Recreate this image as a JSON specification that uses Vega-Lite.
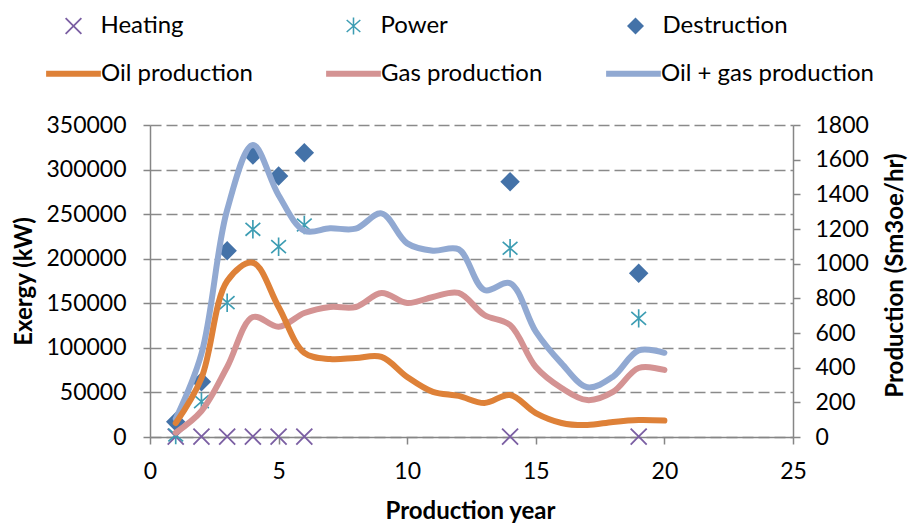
{
  "$schema": "https://vega.github.io/schema/vega-lite/v6.json",
  "width": 643,
  "height": 312,
  "autosize": {"type": "none"},
  "padding": {"left": 150, "top": 125, "right": 116, "bottom": 88},
  "background": "white",
  "config": {
    "font": "Lato",
    "view": {"stroke": null},
    "axis": {
      "domainColor": "#868686",
      "domainWidth": 1.5,
      "tickColor": "#868686",
      "tickWidth": 1.5,
      "tickSize": 7,
      "labelColor": "#000000",
      "labelFont": "Lato",
      "labelFontSize": 23,
      "titleFont": "Lato",
      "titleFontSize": 24,
      "titleFontWeight": "bold",
      "titleColor": "#000000",
      "labelFlush": false,
      "labelOverlap": false
    },
    "legend": {"labelFont": "Lato", "labelColor": "#000000", "padding": 0, "labelLimit": 400, "labelFontSize": 24, "title": null}
  },
  "datasets": {
    "points": [
      {"year": 1, "series": "Heating", "exergy": 500},
      {"year": 2, "series": "Heating", "exergy": 500},
      {"year": 3, "series": "Heating", "exergy": 500},
      {"year": 4, "series": "Heating", "exergy": 500},
      {"year": 5, "series": "Heating", "exergy": 500},
      {"year": 6, "series": "Heating", "exergy": 500},
      {"year": 14, "series": "Heating", "exergy": 500},
      {"year": 19, "series": "Heating", "exergy": 500},
      {"year": 1, "series": "Power", "exergy": 2200},
      {"year": 2, "series": "Power", "exergy": 39600},
      {"year": 3, "series": "Power", "exergy": 150700},
      {"year": 4, "series": "Power", "exergy": 233000},
      {"year": 5, "series": "Power", "exergy": 213500},
      {"year": 6, "series": "Power", "exergy": 237800},
      {"year": 14, "series": "Power", "exergy": 211700},
      {"year": 19, "series": "Power", "exergy": 133100},
      {"year": 1, "series": "Destruction", "exergy": 17200},
      {"year": 2, "series": "Destruction", "exergy": 62000},
      {"year": 3, "series": "Destruction", "exergy": 209000},
      {"year": 4, "series": "Destruction", "exergy": 316300},
      {"year": 5, "series": "Destruction", "exergy": 292800},
      {"year": 6, "series": "Destruction", "exergy": 319000},
      {"year": 14, "series": "Destruction", "exergy": 286400},
      {"year": 19, "series": "Destruction", "exergy": 183600}
    ],
    "lines": [
      {"year": 1, "line": "Oil + gas production", "prod": 105},
      {"year": 2, "line": "Oil + gas production", "prod": 480},
      {"year": 3, "line": "Oil + gas production", "prod": 1310},
      {"year": 4, "line": "Oil + gas production", "prod": 1685},
      {"year": 5, "line": "Oil + gas production", "prod": 1395},
      {"year": 6, "line": "Oil + gas production", "prod": 1190},
      {"year": 7, "line": "Oil + gas production", "prod": 1204},
      {"year": 8, "line": "Oil + gas production", "prod": 1202},
      {"year": 9, "line": "Oil + gas production", "prod": 1290},
      {"year": 10, "line": "Oil + gas production", "prod": 1117},
      {"year": 11, "line": "Oil + gas production", "prod": 1075},
      {"year": 12, "line": "Oil + gas production", "prod": 1083},
      {"year": 13, "line": "Oil + gas production", "prod": 848},
      {"year": 14, "line": "Oil + gas production", "prod": 887},
      {"year": 15, "line": "Oil + gas production", "prod": 608},
      {"year": 16, "line": "Oil + gas production", "prod": 425},
      {"year": 17, "line": "Oil + gas production", "prod": 287},
      {"year": 18, "line": "Oil + gas production", "prod": 348},
      {"year": 19, "line": "Oil + gas production", "prod": 500},
      {"year": 20, "line": "Oil + gas production", "prod": 486},
      {"year": 1, "line": "Gas production", "prod": 25},
      {"year": 2, "line": "Gas production", "prod": 150},
      {"year": 3, "line": "Gas production", "prod": 404},
      {"year": 4, "line": "Gas production", "prod": 692},
      {"year": 5, "line": "Gas production", "prod": 636},
      {"year": 6, "line": "Gas production", "prod": 715},
      {"year": 7, "line": "Gas production", "prod": 750},
      {"year": 8, "line": "Gas production", "prod": 750},
      {"year": 9, "line": "Gas production", "prod": 831},
      {"year": 10, "line": "Gas production", "prod": 773},
      {"year": 11, "line": "Gas production", "prod": 808},
      {"year": 12, "line": "Gas production", "prod": 831},
      {"year": 13, "line": "Gas production", "prod": 704},
      {"year": 14, "line": "Gas production", "prod": 646},
      {"year": 15, "line": "Gas production", "prod": 404},
      {"year": 16, "line": "Gas production", "prod": 283},
      {"year": 17, "line": "Gas production", "prod": 213},
      {"year": 18, "line": "Gas production", "prod": 260},
      {"year": 19, "line": "Gas production", "prod": 398},
      {"year": 20, "line": "Gas production", "prod": 387},
      {"year": 1, "line": "Oil production", "prod": 80},
      {"year": 2, "line": "Oil production", "prod": 340},
      {"year": 3, "line": "Oil production", "prod": 900},
      {"year": 4, "line": "Oil production", "prod": 1005},
      {"year": 5, "line": "Oil production", "prod": 750},
      {"year": 6, "line": "Oil production", "prod": 485},
      {"year": 7, "line": "Oil production", "prod": 450},
      {"year": 8, "line": "Oil production", "prod": 456},
      {"year": 9, "line": "Oil production", "prod": 462},
      {"year": 10, "line": "Oil production", "prod": 346},
      {"year": 11, "line": "Oil production", "prod": 260},
      {"year": 12, "line": "Oil production", "prod": 237},
      {"year": 13, "line": "Oil production", "prod": 196},
      {"year": 14, "line": "Oil production", "prod": 242},
      {"year": 15, "line": "Oil production", "prod": 138},
      {"year": 16, "line": "Oil production", "prod": 81},
      {"year": 17, "line": "Oil production", "prod": 69},
      {"year": 18, "line": "Oil production", "prod": 87},
      {"year": 19, "line": "Oil production", "prod": 98},
      {"year": 20, "line": "Oil production", "prod": 95}
    ]
  },
  "layer": [
    {
      "layer": [
        {
          "data": {"name": "points"},
          "transform": [{"filter": "datum.series === 'Heating'"}],
          "mark": {"type": "point", "filled": true, "size": 300, "opacity": 1, "shape": "M0,-0.15L0.85,-1L1,-0.85L0.15,0L1,0.85L0.85,1L0,0.15L-0.85,1L-1,0.85L-0.15,0L-1,-0.85L-0.85,-1Z"},
          "encoding": {
            "x": {
              "field": "year", "type": "quantitative",
              "scale": {"domain": [0, 25], "nice": false, "zero": false},
              "axis": {
                "values": [0, 5, 10, 15, 20, 25],
                "grid": false,
                "labelPadding": 16,
                "title": "Production year",
                "titleX": 320,
                "titleY": 74,
                "titleBaseline": "middle",
                "titleAlign": "center"
              }
            },
            "y": {
              "field": "exergy", "type": "quantitative",
              "scale": {"domain": [0, 350000], "nice": false},
              "axis": {
                "values": [0, 50000, 100000, 150000, 200000, 250000, 300000, 350000],
                "format": "d",
                "grid": true,
                "gridColor": "#8a8a8a",
                "gridWidth": 1.5,
                "gridDash": [11, 5],
                "labelPadding": 17,
                "title": "Exergy (kW)",
                "titleX": -126,
                "titleY": 156,
                "titleAngle": 270,
                "titleBaseline": "middle",
                "titleAlign": "center"
              }
            },
            "color": {
              "field": "series", "type": "nominal",
              "scale": {"domain": ["Heating"], "range": ["#7B5FA3"]},
              "legend": {
                "orient": "none", "legendX": -88.5, "legendY": -111,
                "symbolType": "M0,-0.15L0.85,-1L1,-0.85L0.15,0L1,0.85L0.85,1L0,0.15L-0.85,1L-1,0.85L-0.15,0L-1,-0.85L-0.85,-1Z",
                "symbolSize": 290, "labelOffset": 15
              }
            }
          }
        },
        {
          "data": {"name": "points"},
          "transform": [{"filter": "datum.series === 'Power'"}],
          "mark": {"type": "point", "filled": true, "size": 340, "opacity": 1, "shape": "M-0.09,-1L0.09,-1L0.09,1L-0.09,1ZM-0.741,-0.768L0.859,0.632L0.741,0.768L-0.859,-0.632ZM-0.859,0.632L0.741,-0.768L0.859,-0.632L-0.741,0.768Z"},
          "encoding": {
            "x": {"field": "year", "type": "quantitative"},
            "y": {"field": "exergy", "type": "quantitative"},
            "color": {
              "field": "series", "type": "nominal",
              "scale": {"domain": ["Power"], "range": ["#3D9DB3"]},
              "legend": {
                "orient": "none", "legendX": 191.5, "legendY": -111,
                "symbolType": "M-0.09,-1L0.09,-1L0.09,1L-0.09,1ZM-0.741,-0.768L0.859,0.632L0.741,0.768L-0.859,-0.632ZM-0.859,0.632L0.741,-0.768L0.859,-0.632L-0.741,0.768Z",
                "symbolSize": 290, "labelOffset": 15
              }
            }
          }
        },
        {
          "data": {"name": "points"},
          "transform": [{"filter": "datum.series === 'Destruction'"}],
          "mark": {"type": "point", "filled": true, "size": 380, "opacity": 1, "shape": "M0,-1L1,0L0,1L-1,0Z"},
          "encoding": {
            "x": {"field": "year", "type": "quantitative"},
            "y": {"field": "exergy", "type": "quantitative"},
            "color": {
              "field": "series", "type": "nominal",
              "scale": {"domain": ["Destruction"], "range": ["#4472A8"]},
              "legend": {
                "orient": "none", "legendX": 473.5, "legendY": -111,
                "symbolType": "M0,-1L1,0L0,1L-1,0Z",
                "symbolSize": 290, "labelOffset": 15
              }
            }
          }
        }
      ],
      "resolve": {"scale": {"color": "independent"}}
    },
    {
      "data": {"name": "lines"},
      "mark": {"type": "line", "interpolate": "catmull-rom", "strokeWidth": 6, "strokeCap": "round", "strokeJoin": "round"},
      "encoding": {
        "x": {"field": "year", "type": "quantitative"},
        "y": {
          "field": "prod", "type": "quantitative",
          "scale": {"domain": [0, 1800], "nice": false},
          "axis": {
            "orient": "right",
            "values": [0, 200, 400, 600, 800, 1000, 1200, 1400, 1600, 1800],
            "format": "d",
            "grid": false,
            "labelPadding": 15,
            "title": "Production (Sm3oe/hr)",
            "titleX": 102,
            "titleY": 150,
            "titleAngle": 270,
            "titleBaseline": "middle",
            "titleAlign": "center"
          }
        },
        "color": {
          "field": "line", "type": "nominal",
          "scale": {"domain": ["Oil production", "Gas production", "Oil + gas production"], "range": ["#DE8138", "#D49393", "#91A9D2"]},
          "legend": {
            "orient": "none", "legendX": -107, "legendY": -82,
            "direction": "horizontal", "columns": 3, "gridAlign": "all",
            "columnPadding": 0,
            "symbolType": "stroke", "symbolSize": 3000, "symbolStrokeWidth": 6, "labelOffset": -3
          }
        }
      }
    }
  ],
  "resolve": {"scale": {"y": "independent", "color": "independent"}}
}
